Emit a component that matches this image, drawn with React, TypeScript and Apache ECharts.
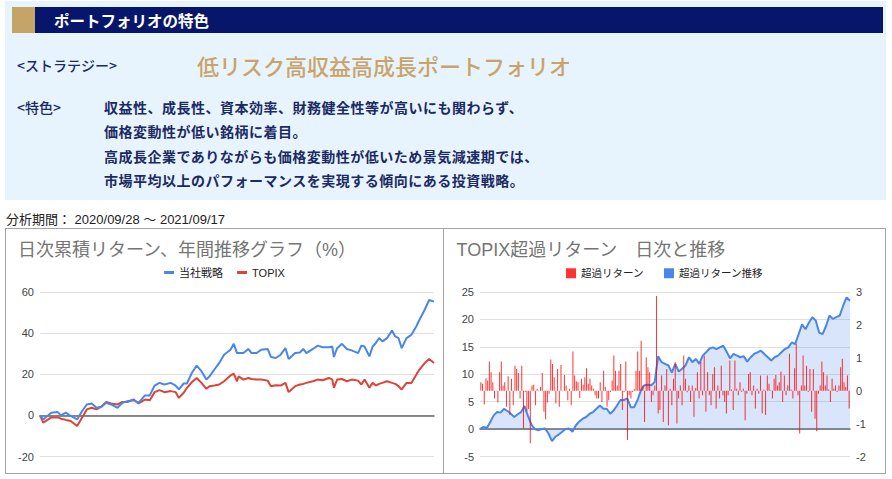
import React, { useEffect, useRef } from "react";
import * as echarts from "echarts";

const FONT = "Arial, 'Liberation Sans', 'Noto Sans CJK JP', sans-serif";
const JP_FONT = "'Noto Sans CJK JP', 'Noto Sans', sans-serif";

// ---------- Left chart: cumulative daily returns (%) ----------
const leftTitle = "日次累積リターン、年間推移グラフ（%）";
const leftSeriesNames = ["当社戦略", "TOPIX"];
const leftYMin = -20;
const leftYMax = 60;
const leftYInterval = 20;
const totalDays = 244;

// trading-day index of each reading
const cumDays = [
  0, 2, 7, 11, 13, 16, 19, 23, 26, 29, 32, 35, 38, 41, 44, 48, 51, 54, 58, 61,
  65, 68, 71, 74, 77, 81, 84, 86, 89, 91, 94, 97, 100, 103, 105, 108, 111, 114, 118, 120,
  122, 123, 126, 129, 131, 134, 137, 141, 143, 146, 149, 152, 154, 158, 161, 163, 165, 169, 172, 175,
  179, 181, 182, 184, 187, 190, 193, 197, 199, 201, 204, 206, 208, 210, 212, 215, 218, 220, 222, 224,
  227, 230, 233, 235, 238, 241, 244,
];

const strategyReturn = [
  0, -2, 1.3, 1.6, 0, 1.3, -0.3, -2, 2, 5.3, 5.8, 3.7, 4.2, 6.1, 5.3, 3.7, 6.1, 6.9, 7.4, 6.1,
  9.7, 9.7, 14.5, 15.8, 15, 15.8, 14.5, 12.6, 15.5, 15.5, 20.6, 24.2, 21.5, 17.4, 19, 22.3, 25.5, 29.5, 31.9, 34.8,
  30.3, 30.3, 30.3, 32.3, 30.3, 30.3, 31.9, 32.3, 28.4, 27.9, 29.5, 32.7, 27.4, 30.3, 30.6, 32.3, 30.3, 32.3, 33.9, 33.1,
  33.1, 33.5, 28.4, 32.7, 34.8, 32.3, 31.6, 30.3, 33.9, 33.5, 28.7, 33.5, 35.2, 37.6, 36, 37.6, 41.3, 38.4, 37.6, 32.7,
  37.6, 39.2, 43.2, 46.5, 51, 56.1, 55.3,
];

const topixReturn = [
  0, -3.5, -1, -1, -1.6, -2.2, -2.7, -5.2, -1.1, 2.9, 3.7, 2.9, 4.2, 6.5, 5.8, 5.3, 6.5, 6.5, 7.7, 5.8,
  7.7, 7.4, 11.3, 12.3, 11.3, 11.8, 11.3, 8.5, 11, 13.4, 16.1, 18.2, 15.8, 12.9, 14.2, 14.5, 15, 16.6, 19.4, 20.3,
  16.6, 19, 17.4, 18.2, 17.7, 17.4, 17.4, 16.9, 14.2, 14.7, 14.5, 15.8, 11.3, 14.2, 15, 15.3, 15.8, 16.6, 17.4, 17.1,
  18.2, 17.4, 13.4, 17.4, 17.7, 16.6, 17.4, 16.9, 15, 17.4, 13.4, 15.8, 14.5, 15.3, 15.8, 16.6, 15.8, 15.3, 14.2, 12.6,
  15.8, 15.8, 19.8, 22.3, 25.2, 27.4, 25.5,
];

// ---------- Right chart: excess return vs TOPIX ----------
const rightTitle = "TOPIX超過リターン　日次と推移";
const rightSeriesNames = ["超過リターン", "超過リターン推移"];
const cumYMin = -5;
const cumYMax = 25;
const cumYInterval = 5;
const dailyYMin = -2;
const dailyYMax = 3;
const dailyYInterval = 1;

const excessCum = [
  0, 0.4, 0.2, 1.3, 2.5, 3.1, 3.0, 3.7, 3.3, 2.8, 2.2, 2.7, 3.1, 4.2, 2.4, 0.8, 0, -0.2, 0, 0.1,
  -0.8, -2.2, -1.4, -1.0, -0.5, 0, 0.1, -0.5, 0.7, 1.4, 1.9, 2.2, 2.8, 3.1, 3.7, 4.3,
  3.7, 3.7, 2.8, 3.4, 4.3, 5.3, 5.3, 5.6, 4.0, 4.0, 5.3, 7.1, 8.0, 8.1, 8.0, 8.6, 13.3, 12.2, 11.9, 11.6,
  10.3, 11.9, 10.5, 11.0, 11.6, 13.1, 12.2, 12.8, 11.9, 13.4, 14.0, 14.7, 14.9, 14.6, 14.9, 15.2, 14.1,
  12.9, 13.7, 13.4, 13.1, 13.3, 12.3, 13.1, 13.7, 14.0, 14.3, 13.7, 13.1, 12.5, 13.1, 13.4, 14.0, 14.6, 14.9,
  15.8, 15.5, 17.3, 19.1, 18.2, 19.4, 20.4, 19.8, 17.6, 17.3, 18.8, 20.7, 20.1, 20.4, 20.7, 22.5, 24.0, 23.4,
];

const excessDaily = [
  0.26, 0.21, -0.42, 0.38, 0.31, 0.89, 0.56, 0.26, -0.24, -0.02,
  -0.36, 0.56, 0.89, 0.16, 0.26, -0.49, 0.44, -0.74, 0.36, -0.44,
  0.76, 0.66, 0.54, -0.24, 0.76, -1.15, -0.04, -0.62, -0.56, -1.6,
  0.16, 0.18, -0.44, 0.06, -0.02, 0.11, 0.54, -0.64, -0.87, -0.36,
  -0.09, 0.95, 0.81, 0.41, -0.39, 0.66, -0.49, 0.78, -0.02, 0.48,
  0.16, -0.29, 0.06, -0.44, 1.19, 0.46, 0.28, 0.26, -0.22, 0.36,
  0.18, 0.41, 0.68, 0.21, 0.36, 0.16, 0.06, -0.14, -0.24,
  -0.24, 0.26, -0.34, 0.61, 0.11, -0.49, -0.29, -0.04, 0.31, 1.07,
  0.61, 0.16, 0.61, 0.81, -0.59, -0.04, 0.89, -1.5, -0.14, -0.24,
  -0.04, 0.05, 0.61, 1.19, 0.61, 1.52, 0.16, -0.95, 1.02, 0.71,
  0.56, -0.34, -0.14, 0.16, 2.88, -0.69, -0.59, 0.46, -0.95, 0.16,
  0.66, -1.05, 0.06, -0.44, 0.36, 0.87, -1.0, -0.24, 0.16, -0.44,
  1.07, 0.36, -0.05, 0.16, -0.34, 0.16, -0.79, 0.08, 0.56, -0.24,
  0.87, -0.14, 1.07, -0.64, 0.56, -0.14, -0.44, 0.51, 0.71, -0.54,
  0.16, -0.24, 0.76, -0.14, -0.34,
  -0.69, -0.14, 0.92, 0.04, -0.59, 0.92, 0.06, -0.14, 0.26, -0.04,
  0.06, -0.9, -0.09, 0.51, 0.56, -0.14, 0.16, -0.54, 0.06, -0.09,
  0.46, -0.69, 0.04, -0.74, 0.46, 0.21, 0.01, -0.24, 0.36, 0.48,
  0.16, 0.26, 0.58, -0.34, 0.46, -0.14, 0.16, 1.12, 0.04, -0.24,
  0.68, 1.42, -0.14, -1.3, 0.16, 1.07, 0.16, 0.76, -0.04, 0.66,
  -0.64, 0.66, -0.85, -1.23, -0.09, 0.16, 0.89, 0.56, 0.16, 0.46,
  0.04, -0.34, 0.36, 0.06, 0.16, -0.04, 0.16, 0.71, 0.97, 0.26,
  0.11, 0.46, -0.54,
];

// ---------- Text panel ----------
const headerTitle = "ポートフォリオの特色";
const strategyLabel = "<ストラテジー>";
const strategyName = "低リスク高収益高成長ポートフォリオ";
const featureLabel = "<特色>";
const featureLines = [
  "収益性、成長性、資本効率、財務健全性等が高いにも関わらず、",
  "価格変動性が低い銘柄に着目。",
  "高成長企業でありながらも価格変動性が低いため景気減速期では、",
  "市場平均以上のパフォーマンスを実現する傾向にある投資戦略。",
];
const periodText = "分析期間： 2020/09/28 ～ 2021/09/17";

const BLUE = "#4a86e8";
const RED_LINE = "#db4437";
const RED_BAR = "#ff0000";
const NAVY_TEXT = "#1b2a62";

function leftOption(): any {
  return {
    animation: false,
    title: {
      text: leftTitle,
      left: 12,
      top: 12,
      padding: 0,
      textStyle: { fontSize: 18, fontWeight: "normal", color: "#757575", fontFamily: FONT },
    },
    legend: {
      data: leftSeriesNames,
      top: 38,
      left: "center",
      padding: 0,
      icon: "rect",
      itemWidth: 10,
      itemHeight: 3,
      itemGap: 14,
      textStyle: { fontSize: 11, color: "#222", fontFamily: FONT },
    },
    grid: { left: 34, right: 9, top: 63, bottom: 15.5 },
    xAxis: {
      type: "value",
      min: 0,
      max: totalDays,
      axisLine: { show: true, onZero: true, lineStyle: { color: "#666", width: 1.5 } },
      axisTick: { show: false },
      axisLabel: { show: false },
      splitLine: { show: false },
    },
    yAxis: {
      type: "value",
      min: leftYMin,
      max: leftYMax,
      interval: leftYInterval,
      axisLine: { show: false },
      axisTick: { show: false },
      axisLabel: { fontSize: 11, color: "#444", margin: 6, fontFamily: FONT },
      splitLine: { lineStyle: { color: "#e0e0e0", width: 1 } },
    },
    series: [
      {
        name: leftSeriesNames[0],
        type: "line",
        data: cumDays.map((d, i) => [d, strategyReturn[i]]),
        showSymbol: false,
        lineStyle: { color: BLUE, width: 2 },
        itemStyle: { color: BLUE },
        z: 3,
      },
      {
        name: leftSeriesNames[1],
        type: "line",
        data: cumDays.map((d, i) => [d, topixReturn[i]]),
        showSymbol: false,
        lineStyle: { color: RED_LINE, width: 2 },
        itemStyle: { color: RED_LINE },
        z: 2,
      },
    ],
  };
}

function rightOption(): any {
  return {
    animation: false,
    title: {
      text: rightTitle,
      left: 12.5,
      top: 12,
      padding: 0,
      textStyle: { fontSize: 18, fontWeight: "normal", color: "#757575", fontFamily: FONT },
    },
    legend: {
      data: rightSeriesNames,
      top: 39,
      left: "center",
      padding: 0,
      icon: "rect",
      itemWidth: 10,
      itemHeight: 10,
      itemGap: 20,
      textStyle: { fontSize: 10.5, color: "#222", fontFamily: FONT },
    },
    grid: { left: 36, right: 35, top: 63, bottom: 15.5 },
    xAxis: [
      {
        type: "category",
        data: excessCum.map((_, i) => String(i)),
        boundaryGap: false,
        axisLine: {
          show: true,
          onZero: true,
          onZeroAxisIndex: 0,
          lineStyle: { color: "#666", width: 1.5 },
        },
        axisTick: { show: false },
        axisLabel: { show: false },
        splitLine: { show: false },
      },
      {
        type: "category",
        data: excessDaily.map((_, i) => String(i)),
        boundaryGap: true,
        show: false,
      },
    ],
    yAxis: [
      {
        type: "value",
        min: cumYMin,
        max: cumYMax,
        interval: cumYInterval,
        axisLine: { show: false },
        axisTick: { show: false },
        axisLabel: { fontSize: 11, color: "#444", margin: 6, fontFamily: FONT },
        splitLine: { lineStyle: { color: "#e0e0e0", width: 1 } },
      },
      {
        type: "value",
        position: "right",
        min: dailyYMin,
        max: dailyYMax,
        interval: dailyYInterval,
        axisLine: { show: false },
        axisTick: { show: false },
        axisLabel: { fontSize: 11, color: "#444", margin: 6, fontFamily: FONT },
        splitLine: { show: false },
      },
    ],
    series: [
      {
        name: rightSeriesNames[1],
        type: "line",
        xAxisIndex: 0,
        yAxisIndex: 0,
        data: excessCum,
        showSymbol: false,
        lineStyle: { color: BLUE, width: 2 },
        itemStyle: { color: BLUE },
        areaStyle: { color: "rgba(74,134,232,0.3)" },
        z: 2,
      },
      {
        name: rightSeriesNames[0],
        type: "bar",
        xAxisIndex: 1,
        yAxisIndex: 1,
        data: excessDaily,
        barWidth: 1,
        itemStyle: { color: RED_BAR, opacity: 0.8 },
        z: 3,
      },
    ],
  };
}

function Chart({ option, style }: { option: any; style: React.CSSProperties }) {
  const ref = useRef<HTMLDivElement>(null);
  useEffect(() => {
    if (!ref.current) return;
    const chart = echarts.init(ref.current, undefined, { renderer: "svg" });
    chart.setOption(option);
    return () => chart.dispose();
  }, [option]);
  return <div ref={ref} style={style} />;
}

const leftOpt = leftOption();
const rightOpt = rightOption();

export default function App() {
  const abs = (s: React.CSSProperties): React.CSSProperties => ({ position: "absolute", ...s });
  return (
    <div
      style={{
        position: "absolute",
        left: 0,
        top: 0,
        width: 892,
        height: 479,
        background: "#ffffff",
        overflow: "hidden",
        fontFamily: JP_FONT,
      }}
    >
      {/* top panel */}
      <div style={abs({ left: 5, top: 1, width: 881, height: 199, background: "#e8f4fd" })} />
      <div style={abs({ left: 12, top: 7, width: 23, height: 26, background: "#c5a467" })} />
      <div style={abs({ left: 35, top: 7, width: 848, height: 26, background: "#07166b" })} />
      <div
        style={abs({
          left: 54,
          top: 7,
          height: 26,
          lineHeight: "26px",
          fontSize: 15.5,
          fontWeight: 700,
          color: "#ffffff",
          whiteSpace: "nowrap",
        })}
      >
        {headerTitle}
      </div>
      <div
        style={abs({
          left: 17,
          top: 55,
          height: 20,
          lineHeight: "20px",
          fontSize: 14,
          fontWeight: 500,
          color: NAVY_TEXT,
          whiteSpace: "nowrap",
        })}
      >
        {strategyLabel}
      </div>
      <div
        style={abs({
          left: 197,
          top: 50,
          height: 30,
          lineHeight: "30px",
          fontSize: 22,
          fontWeight: 500,
          color: "#c8a46a",
          whiteSpace: "nowrap",
        })}
      >
        {strategyName}
      </div>
      <div
        style={abs({
          left: 17,
          top: 97,
          height: 20,
          lineHeight: "20px",
          fontSize: 14,
          fontWeight: 500,
          color: NAVY_TEXT,
          whiteSpace: "nowrap",
        })}
      >
        {featureLabel}
      </div>
      {featureLines.map((line, i) => (
        <div
          key={i}
          style={abs({
            left: 104,
            top: 97 + i * 24.3,
            height: 20,
            lineHeight: "20px",
            fontSize: 14,
            letterSpacing: "0.5px",
            fontWeight: 700,
            color: NAVY_TEXT,
            whiteSpace: "nowrap",
          })}
        >
          {line}
        </div>
      ))}
      <div
        style={abs({
          left: 6,
          top: 211,
          height: 18,
          lineHeight: "18px",
          fontSize: 13,
          color: "#222",
          fontFamily: FONT,
          whiteSpace: "nowrap",
        })}
      >
        {periodText}
      </div>

      {/* chart boxes */}
      <div
        style={abs({
          left: 5,
          top: 228,
          width: 881,
          height: 246,
          border: "1px solid #a3a3a3",
          boxSizing: "border-box",
        })}
      />
      <div style={abs({ left: 443, top: 228, width: 1, height: 246, background: "#a3a3a3" })} />
      <Chart option={leftOpt} style={abs({ left: 6, top: 229, width: 437, height: 243 })} />
      <Chart option={rightOpt} style={abs({ left: 444, top: 229, width: 441, height: 243 })} />
    </div>
  );
}
